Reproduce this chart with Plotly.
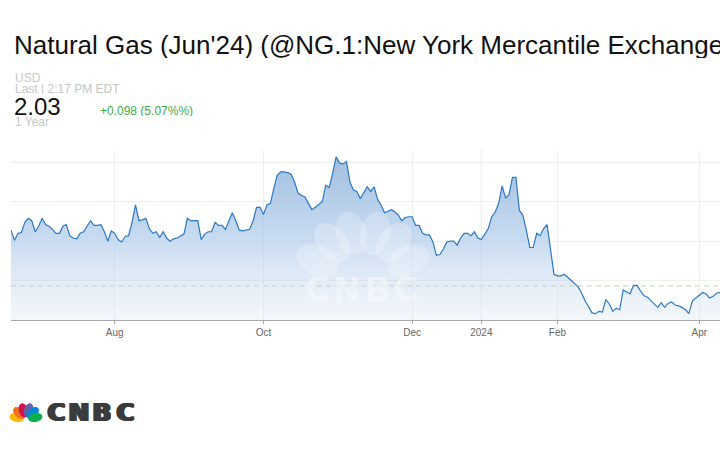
import math
import pandas as pd
import plotly.graph_objects as go

# ---------------- data ----------------
START = "2023-06-16"
HOLIDAYS = ["2023-06-19", "2023-07-04", "2023-09-04", "2023-11-23",
            "2023-12-25", "2024-01-01", "2024-03-29"]

PRICES = [
    2.64, 2.51, 2.60, 2.61, 2.74, 2.79, 2.76, 2.62, 2.69, 2.79,
    2.71, 2.69, 2.65, 2.60, 2.60, 2.69, 2.71, 2.57, 2.54, 2.53,
    2.60, 2.62, 2.69, 2.76, 2.70, 2.70, 2.71, 2.62, 2.50, 2.63,
    2.60, 2.52, 2.49, 2.56, 2.57, 2.74, 2.96, 2.76, 2.77, 2.79,
    2.66, 2.60, 2.62, 2.55, 2.62, 2.54, 2.50, 2.53, 2.54, 2.57,
    2.59, 2.79, 2.76, 2.76, 2.76, 2.52, 2.59, 2.62, 2.62, 2.74,
    2.70, 2.70, 2.65, 2.76, 2.86, 2.76, 2.64, 2.63, 2.64, 2.65,
    2.76, 2.93, 2.93, 2.84, 2.96, 2.98, 3.17, 3.34, 3.38, 3.38,
    3.37, 3.35, 3.25, 3.11, 3.08, 3.06, 2.98, 2.90, 2.93, 2.96,
    3.00, 3.21, 3.18, 3.36, 3.57, 3.49, 3.48, 3.51, 3.25, 3.15,
    3.13, 3.04, 3.11, 3.19, 3.13, 3.19, 3.03, 2.96, 2.86, 2.88,
    2.90, 2.87, 2.83, 2.76, 2.80, 2.81, 2.81, 2.70, 2.70, 2.60,
    2.58, 2.58, 2.49, 2.32, 2.33, 2.40, 2.49, 2.50, 2.50, 2.45,
    2.54, 2.60, 2.60, 2.57, 2.62, 2.54, 2.52, 2.59, 2.66, 2.81,
    2.87, 2.98, 3.20, 3.05, 3.09, 3.31, 3.31, 2.89, 2.83, 2.64,
    2.42, 2.42, 2.60, 2.57, 2.66, 2.71, 2.42, 2.08, 2.06, 2.06,
    2.08, 2.04, 2.01, 1.97, 1.92, 1.84, 1.74, 1.67, 1.59, 1.58,
    1.61, 1.60, 1.76, 1.70, 1.61, 1.65, 1.63, 1.88, 1.85, 1.83,
    1.94, 1.94, 1.87, 1.81, 1.79, 1.75, 1.70, 1.66, 1.72, 1.66,
    1.71, 1.73, 1.69, 1.68, 1.66, 1.63, 1.58, 1.74, 1.78, 1.82,
    1.85, 1.83, 1.78, 1.80, 1.84, 1.85,
]

TICK_DATES = ["2023-08-01", "2023-10-02", "2023-12-01", "2024-01-02", "2024-02-01", "2024-04-01"]
TICK_TEXT = ["Aug", "Oct", "Dec", "2024", "Feb", "Apr"]
Y_GRID = [2.0, 2.5, 3.0, 3.5]
Y_RANGE = [1.5, 3.657]
PREV_CLOSE = 1.932

TITLE = "Natural Gas (Jun'24) (@NG.1:New York Mercantile Exchange)"
CURRENCY = "USD"
LAST_TIME = "Last | 2:17 PM EDT"
LAST_PRICE = "2.03"
CHANGE = "+0.098 (5.07%%)"
PERIOD = "1 Year"

dates = pd.bdate_range(START, periods=len(PRICES), freq="C", holidays=HOLIDAYS)

# ---------------- geometry helpers (pixel -> paper) ----------------
W, H = 720, 450
ML, MR, MT, MB = 11, 0, 150, 130
PW, PH = W - ML - MR, H - MT - MB


def px(x):
    return (x - ML) / PW


def py(y):
    return (H - MB - y) / PH


def ellipse_path(cx, cy, rx, ry, ang, n=36):
    a = math.radians(ang)
    ux, uy = math.cos(a), math.sin(a)
    vx, vy = -math.sin(a), math.cos(a)
    pts = []
    for k in range(n):
        t = 2 * math.pi * k / n
        ex = rx * math.cos(t) * ux + ry * math.sin(t) * vx
        ey = rx * math.cos(t) * uy + ry * math.sin(t) * vy
        pts.append((px(cx + ex), py(cy - ey)))
    return "M " + " L ".join(f"{x:.5f},{y:.5f}" for x, y in pts) + " Z"


def peacock(bx, by, d, rx, ry, colors, angles):
    shapes = []
    for col, ang in zip(colors, angles):
        a = math.radians(ang)
        cx, cy = bx + d * math.cos(a), by - d * math.sin(a)
        shapes.append(dict(type="path", xref="paper", yref="paper",
                           path=ellipse_path(cx, cy, rx, ry, ang),
                           fillcolor=col, line=dict(width=0), layer="above"))
    return shapes


fig = go.Figure()
fig.add_trace(go.Scatter(
    x=dates, y=PRICES, mode="lines",
    line=dict(color="#2a79c4", width=1.2),
    fill="tozeroy",
    fillgradient=dict(type="vertical", start=Y_RANGE[0], stop=3.6,
                      colorscale=[[0, "rgba(215,228,243,0.3)"],
                                  [0.5, "rgba(170,199,232,0.66)"],
                                  [1, "rgba(135,172,215,0.8)"]]),
    hoverinfo="skip", showlegend=False,
))

shapes = []
# previous close dashed line
shapes.append(dict(type="line", xref="paper", yref="y", x0=0, x1=1,
                   y0=PREV_CLOSE, y1=PREV_CLOSE, layer="below",
                   line=dict(color="rgb(185,214,168)", width=1, dash="5px,4px")))
# year boundary gridline slightly darker
shapes.append(dict(type="line", xref="x", yref="paper", x0=TICK_DATES[3], x1=TICK_DATES[3],
                   y0=0, y1=1, layer="below", line=dict(color="#d6d6d6", width=1)))

# watermark peacock
wm = "rgba(255,255,255,0.24)"
shapes += peacock(363, 282, 50, 22, 15, [wm] * 6, [155, 128, 104, 76, 52, 25])
# bottom logo peacock
shapes += peacock(26, 419.5, 9.5, 7.2, 4.5,
                  ["#fcb711", "#f37021", "#d2134f", "#6460aa", "#0089d0", "#0db14b"],
                  [168, 136, 106, 74, 44, 12])

ann = []


def text(x, y, s, size, color, xanchor="left", family="Liberation Sans, Arial, sans-serif",
         weight="normal", height=None, shadow=None):
    f = dict(size=size, color=color, family=family, weight=weight)
    if shadow:
        f["shadow"] = shadow
    d = dict(xref="paper", yref="paper", x=px(x), y=py(y), text=s, showarrow=False,
             xanchor=xanchor, yanchor="middle", borderpad=0, font=f)
    if height is not None:
        d["height"] = height
    ann.append(d)


text(13, 45, TITLE, 26, "#111111", height=26)
text(14, 77.5, CURRENCY, 12, "#c6c6c6", height=10)
text(14, 89, LAST_TIME, 12, "#c6c6c6", height=10)
text(13, 106, LAST_PRICE, 24, "#111111", height=18)
text(99, 111, CHANGE, 12, "#3daa4a", height=10)
text(14, 122, PERIOD, 12, "#c6c6c6", height=10)

# bottom CNBC wordmark (thickened with a horizontal shadow for the heavy logo type)
logo_shadow = "1px 0px 0px #3b3b3b, -1px 0px 0px #3b3b3b, 2px 0px 0px #3b3b3b"
for ch, cx in zip("CNBC", [55.5, 78.5, 101.5, 124.5]):
    text(cx, 411.5, ch, 25, "#3b3b3b", xanchor="center", family="DejaVu Sans", weight="bold",
         height=18, shadow=logo_shadow)
# watermark wordmark
for ch, cx in zip("CNBC", [317, 347, 377, 406]):
    text(cx, 289, ch, 33, "rgba(255,255,255,0.42)", xanchor="center", family="DejaVu Sans",
         weight="bold", height=24)

fig.update_layout(
    width=W, height=H,
    margin=dict(l=ML, r=MR, t=MT, b=MB, pad=0),
    paper_bgcolor="white", plot_bgcolor="white",
    shapes=shapes, annotations=ann,
    font=dict(family="Liberation Sans, Arial, sans-serif"),
    xaxis=dict(
        type="date",
        range=[dates[0], dates[-1]],
        rangebreaks=[dict(bounds=["sat", "mon"]), dict(values=HOLIDAYS)],
        tickvals=TICK_DATES, ticktext=TICK_TEXT,
        showgrid=True, gridcolor="#eeeeee", gridwidth=1,
        showline=True, linecolor="#a8a8a8", linewidth=1,
        ticks="outside", ticklen=3, tickcolor="#a8a8a8",
        tickfont=dict(size=10, color="#666666"),
        zeroline=False, fixedrange=True,
    ),
    yaxis=dict(
        range=Y_RANGE, tickvals=Y_GRID, showticklabels=False,
        showgrid=True, gridcolor="#eeeeee", gridwidth=1,
        zeroline=False, showline=False, ticks="", fixedrange=True,
    ),
)

fig.write_html("out.html", config={"displayModeBar": False},
               post_script="document.body.style.margin='0';document.body.style.overflow='hidden';")
